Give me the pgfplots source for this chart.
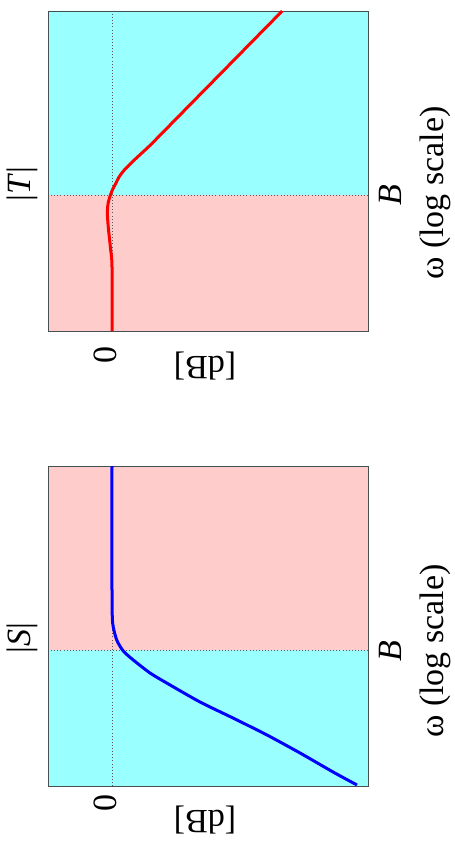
\documentclass[border=0pt]{standalone}
\usepackage{pgfplots}
\pgfplotsset{compat=1.18}
\usepackage{fontspec}
\setmainfont{Liberation Serif}
\definecolor{bgcyan}{RGB}{153,255,255}
\definecolor{bgpink}{RGB}{255,204,204}
\definecolor{framegray}{RGB}{70,80,80}
\newcommand{\bigtxt}{\fontsize{34}{40}\selectfont}
\pgfplotsset{
  bodeaxis/.style={
    width=320pt, height=320pt, scale only axis,
    set layers,
    x dir=reverse,
    xmin=-20, xmax=5, ymin=-1.7, ymax=2.3,
    xtick={0}, ytick={0},
    xticklabels={\empty}, yticklabels={\empty},
    major tick length=0pt,
    grid=major,
    major grid style={draw=black!65, line width=0.6pt, dash pattern=on 0.7pt off 2.4pt},
    axis line style={draw=framegray, line width=0.8pt},
    anchor=south west,
  }
}
\begin{document}
\begin{tikzpicture}
\path (0,0) rectangle (455pt,855pt);
% ---- |T| (top) ----
\begin{axis}[bodeaxis, at={(48pt,524pt)}]
\addplot[fill=bgpink, draw=none, on layer=axis background] coordinates {(-20,-1.7) (5,-1.7) (5,0) (-20,0) (-20,-1.7)};
\addplot[fill=bgcyan, draw=none, on layer=axis background] coordinates {(-20,0) (5,0) (5,2.3) (-20,2.3) (-20,0)};
\addplot[red, line width=3pt, smooth, tension=0.5] coordinates {
(0,-1.7) (0,-0.9) (0.1,-0.69) (0.28,-0.42) (0.36,-0.23) (0.3,-0.1) (0.12,0.0) (-0.05,0.07)
(-0.3,0.146) (-0.55,0.225) (-0.95,0.31) (-1.66,0.425) (-2.3,0.52) (-2.97,0.62)
(-4.24,0.826) (-6.61,1.212) (-9.66,1.708) (-12.1,2.105) (-13.3,2.3)};
\end{axis}
% ---- |S| (bottom) ----
\begin{axis}[bodeaxis, at={(48pt,69pt)}]
\addplot[fill=bgcyan, draw=none, on layer=axis background] coordinates {(-20,-1.7) (5,-1.7) (5,0) (-20,0) (-20,-1.7)};
\addplot[fill=bgpink, draw=none, on layer=axis background] coordinates {(-20,0) (5,0) (5,2.3) (-20,2.3) (-20,0)};
\addplot[blue, line width=3pt, smooth, tension=0.4] coordinates {
(0,2.3) (0,0.75) (-0.05,0.3375) (-0.37,0.125) (-0.88,-0.0125) (-1.66,-0.125) (-2.97,-0.2875)
(-4.27,-0.4125) (-6.875,-0.65) (-9.45,-0.85) (-12.11,-1.0625) (-14.69,-1.2875) (-17.27,-1.525)
(-19.14,-1.6875)};
\end{axis}
% ---- texts ----
\node[rotate=90, inner sep=0pt] at (22pt,671pt) {\bigtxt |\textit{T}|};
\node[rotate=90, inner sep=0pt] at (22pt,217pt) {\bigtxt |\textit{S}|};
\node[rotate=90, inner sep=0pt] at (390pt,660pt) {\bigtxt \textit{B}};
\node[rotate=90, inner sep=0pt] at (390pt,204pt) {\bigtxt \textit{B}};
\node[rotate=90, inner sep=0pt] at (435pt,662pt) {\bigtxt ω (log scale)};
\node[rotate=90, inner sep=0pt] at (435pt,204pt) {\bigtxt ω (log scale)};
\node[rotate=90, inner sep=0pt] at (105pt,500pt) {\bigtxt 0};
\node[rotate=90, inner sep=0pt] at (105pt,52pt) {\bigtxt 0};
\node[rotate=180, inner sep=0pt] at (205pt,489pt) {\bigtxt [dB]};
\node[rotate=180, inner sep=0pt] at (205pt,35pt) {\bigtxt [dB]};
\end{tikzpicture}
\end{document}
